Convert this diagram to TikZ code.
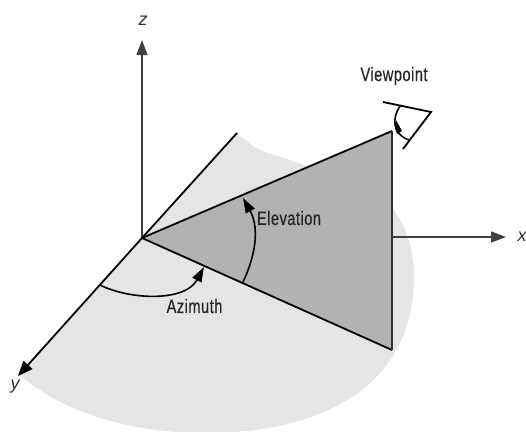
\documentclass[tikz,border=0pt]{standalone}
\usepackage{fontspec}
\setmainfont{Liberation Sans}
\newfontfamily\narrowfont[FakeStretch=0.75,FakeBold=0.5,LetterSpace=2.5]{Liberation Sans}
\usetikzlibrary{arrows.meta}
\definecolor{lightreg}{gray}{0.9}
\definecolor{darkreg}{gray}{0.7}
\tikzset{
  axisline/.style={line width=1.2pt,draw=black!75,-{Triangle[length=15pt,width=11pt]}},
  edgeline/.style={line width=1.8pt,draw=black},
  arcline/.style={line width=1.6pt,draw=black},
  tiparc/.style={arcline,-{Triangle[length=15pt,width=10pt]}},
  axislabel/.style={font=\fontsize{18}{18}\selectfont\itshape,text=black!80,inner sep=0pt},
  anglabel/.style={font=\narrowfont\fontsize{19.5}{20}\selectfont,text=black!85,inner sep=0pt}
}
\begin{document}
\begin{tikzpicture}[x=1pt,y=-1pt]
\useasboundingbox (0,0) rectangle (526,431);
\coordinate (O) at (142,238);
\coordinate (Ytop) at (237,133);
\coordinate (Ytip) at (18,376);
\coordinate (Ztip) at (142,40);
\coordinate (Xstart) at (392,237);
\coordinate (Xtip) at (506,237);
\coordinate (T) at (392,131);
\coordinate (B) at (392,350);
\coordinate (Az1) at (100,285);
\coordinate (Az2) at (204,267);
\coordinate (El1) at (243,282);
\coordinate (El2) at (243,198);
\fill[lightreg] (Ytop) .. controls (246,140) and (254,149) .. (268,153)
  .. controls (285,158) and (300,163) .. (314,169)
  .. controls (388,182) and (414,222) .. (414,280)
  .. controls (412,385) and (325,433) .. (205,433)
  .. controls (130,433) and (62,412) .. (20,375) -- cycle;
\fill[darkreg] (O) -- (T) -- (B) -- cycle;
\draw[axisline] (O) -- (Ztip);
\draw[axisline] (Xstart) -- (Xtip);
\draw[edgeline] (O) -- (T);
\draw[edgeline] (O) -- (B);
\draw[line width=1.2pt,draw=black!80] (T) -- (B);
\draw[edgeline] (Ytop) -- (O);
\draw[edgeline,-{Triangle[length=15pt,width=12pt]}] (O) -- (Ytip);
\draw[tiparc] (Az1) .. controls (130,300) and (185,302) .. (Az2);
\draw[tiparc] (El1) .. controls (258,250) and (258,225) .. (El2);
\coordinate (Ea) at (383,102);
\coordinate (Eb) at (431,112);
\coordinate (Ec) at (403,149);
\coordinate (Ed) at (400,106);
\coordinate (Ee) at (409,140);
\draw[edgeline,line join=miter] (Ea) -- (Eb) -- (Ec);
\draw[arcline] (Ed) .. controls (392,118) and (392,134) .. (Ee);
\fill[black] (396,120) -- (402,131) -- (397,134) -- (395,128) -- cycle;
\node[axislabel] (zl) at (143,21) {z};
\node[axislabel] (xl) at (522,237) {x};
\node[axislabel] (yl) at (15,387) {y};
\node[anglabel] (vp) at (394,76) {Viewpoint};
\node[anglabel] (el) at (289,218) {Elevation};
\node[anglabel] (az) at (194.5,306) {Azimuth};
\end{tikzpicture}
\end{document}
